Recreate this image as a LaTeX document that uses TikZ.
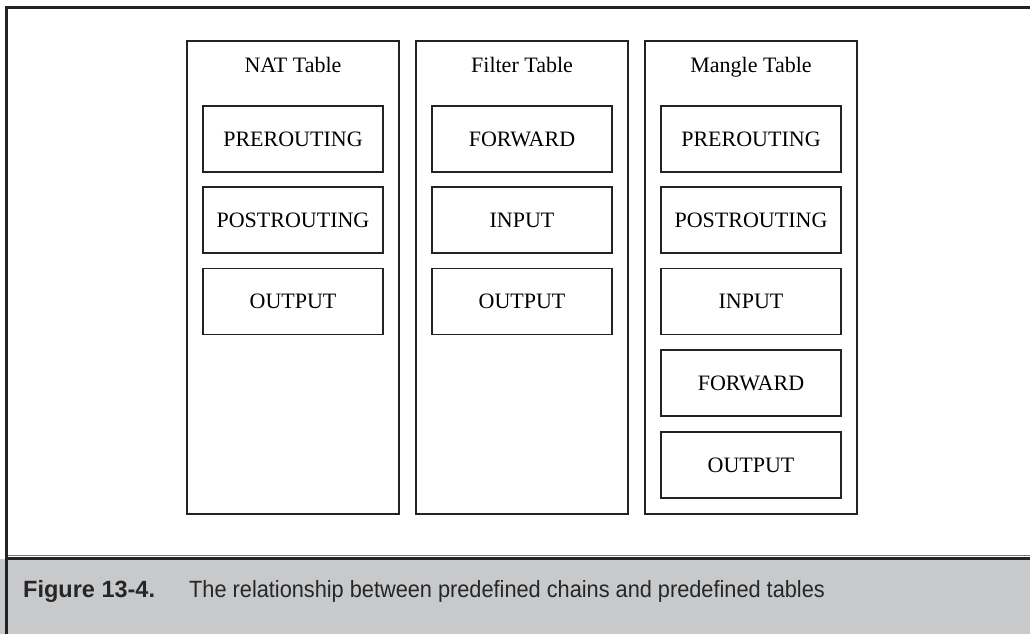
\documentclass[tikz,border=0pt]{standalone}
\usepackage{fontspec}
\setmainfont{Liberation Serif}
\newfontfamily\capfont{Liberation Sans}
\definecolor{capgray}{RGB}{200,201,203}
\definecolor{framec}{RGB}{35,35,35}
\begin{document}
\begin{tikzpicture}[x=1pt,y=-1pt,
  tablebox/.style={draw=framec,line width=1.3pt,minimum width=212pt,minimum height=473pt,inner sep=0pt},
  chainbox/.style={draw=framec,line width=1.3pt,minimum width=180pt,minimum height=66pt,inner sep=0pt,font=\fontsize{22}{26}\selectfont},
  titletext/.style={anchor=base,inner sep=0pt,font=\fontsize{22}{26}\selectfont},
  framestyle/.style={draw=framec,line width=3pt},
  captext/.style={anchor=base west,inner sep=0pt,text=black!85}]
\useasboundingbox (0,0) rectangle (1030,634);
% caption band
\fill[capgray] (0,559) rectangle (1030,634);
\draw[black!55,line width=1pt] (6.5,555.5) -- (1030,555.5);
\draw[framestyle] (6.5,558.3) -- (1030,558.3);
\draw[framestyle] (1030,7.5) -- (6.5,7.5) -- (6.5,634);
% tables
\node[tablebox] (nat) at (293,277.5) {};
\node[tablebox] (filter) at (522,277.5) {};
\node[tablebox] (mangle) at (751,277.5) {};
\node[titletext] (natt) at (293,73) {NAT Table};
\node[titletext] (filtert) at (522,73) {Filter Table};
\node[titletext] (manglet) at (751,73) {Mangle Table};
% NAT chains
\node[chainbox] (n1) at (293,139) {PREROUTING};
\node[chainbox] (n2) at (293,220) {POSTROUTING};
\node[chainbox] (n3) at (293,301.5) {OUTPUT};
% Filter chains
\node[chainbox] (f1) at (522,139) {FORWARD};
\node[chainbox] (f2) at (522,220) {INPUT};
\node[chainbox] (f3) at (522,301.5) {OUTPUT};
% Mangle chains
\node[chainbox] (m1) at (751,139) {PREROUTING};
\node[chainbox] (m2) at (751,220) {POSTROUTING};
\node[chainbox] (m3) at (751,301.5) {INPUT};
\node[chainbox] (m4) at (751,383) {FORWARD};
\node[chainbox] (m5) at (751,465) {OUTPUT};
% caption
\node[captext,font=\capfont\bfseries\fontsize{23.5}{28}\selectfont] (fig) at (23,597) {Figure 13-4.};
\node[captext,font=\capfont\fontsize{23.5}{28}\selectfont] (cap) at (189,597) {\scalebox{0.925}[1]{The relationship between predefined chains and predefined tables}};
\end{tikzpicture}
\end{document}
